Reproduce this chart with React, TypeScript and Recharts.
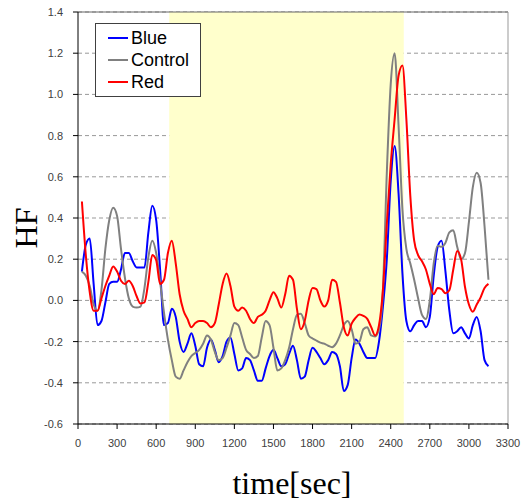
import React from 'react';
import {
  LineChart,
  Line,
  XAxis,
  YAxis,
  CartesianGrid,
  Legend,
  ReferenceArea,
  ReferenceLine,
} from 'recharts';

// sample times, every 30 sec
const times = [
  30, 60, 90, 120, 150, 180, 210, 240, 270, 300, 330, 360, 390, 420, 450, 480, 510, 540, 570, 600,
  630, 660, 690, 720, 750, 780, 810, 840, 870, 900, 930, 960, 990, 1020, 1050, 1080, 1110, 1140,
  1170, 1200, 1230, 1260, 1290, 1320, 1350, 1380, 1410, 1440, 1470, 1500, 1530, 1560, 1590, 1620,
  1650, 1680, 1710, 1740, 1770, 1800, 1830, 1860, 1890, 1920, 1950, 1980, 2010, 2040, 2070, 2100,
  2130, 2160, 2190, 2220, 2250, 2280, 2310, 2340, 2370, 2400, 2430, 2460, 2490, 2520, 2550, 2580,
  2610, 2640, 2670, 2700, 2730, 2760, 2790, 2820, 2850, 2880, 2910, 2940, 2970, 3000, 3030, 3060,
  3090, 3120, 3150,
];

const blue = [
  0.14, 0.27, 0.3, 0.08, -0.12, -0.1, -0.01, 0.08, 0.09, 0.09, 0.15, 0.23, 0.23, 0.19, 0.16, 0.16,
  0.16, 0.33, 0.46, 0.39, 0.15, -0.12, -0.11, -0.04, -0.08, -0.2, -0.25, -0.21, -0.16, -0.22, -0.31,
  -0.32, -0.23, -0.19, -0.24, -0.3, -0.27, -0.2, -0.18, -0.26, -0.34, -0.33, -0.28, -0.29, -0.34,
  -0.39, -0.39, -0.33, -0.27, -0.24, -0.28, -0.32, -0.31, -0.26, -0.22, -0.29, -0.38, -0.37, -0.29,
  -0.23, -0.25, -0.28, -0.31, -0.29, -0.25, -0.26, -0.32, -0.44, -0.41, -0.28, -0.19, -0.21, -0.25,
  -0.28, -0.28, -0.28, -0.2, -0.03, 0.2, 0.58, 0.75, 0.52, 0.13, -0.1, -0.15, -0.12, -0.1, -0.1,
  -0.13, -0.08, 0.12, 0.26, 0.29, 0.14, -0.05, -0.16, -0.15, -0.13, -0.16, -0.185, -0.12, -0.08,
  -0.15, -0.29, -0.32,
];

const control = [
  0.14, 0.12, 0.07, -0.02, -0.05, 0.05, 0.25, 0.39, 0.45, 0.41, 0.25, 0.11, 0.01, -0.03, -0.035,
  -0.03, 0.06, 0.21, 0.29, 0.23, 0.09, -0.06, -0.19, -0.29, -0.37, -0.38, -0.34, -0.3, -0.27, -0.255,
  -0.24, -0.21, -0.17, -0.19, -0.25, -0.29, -0.28, -0.23, -0.17, -0.11, -0.12, -0.18, -0.24, -0.26,
  -0.28, -0.27, -0.18, -0.1, -0.12, -0.23, -0.34, -0.33, -0.29, -0.23, -0.14, -0.07, -0.065, -0.11,
  -0.17, -0.185, -0.195, -0.205, -0.21, -0.22, -0.227, -0.21, -0.17, -0.12, -0.1, -0.14, -0.21,
  -0.2, -0.14, -0.13, -0.17, -0.175, -0.14, 0.05, 0.62, 1.05, 1.2, 0.85, 0.44, 0.25, 0.18, 0.1,
  0.01, -0.07, -0.09, 0.0, 0.18, 0.265, 0.26, 0.28, 0.33, 0.34, 0.26, 0.2, 0.23, 0.38, 0.55, 0.62,
  0.57, 0.36, 0.1,
];

const red = [
  0.48, 0.22, 0.04, -0.05, -0.05, 0.01, 0.07, 0.12, 0.165, 0.14, 0.095, 0.08, 0.095, 0.07, 0.02,
  -0.015, -0.01, 0.09, 0.22, 0.195, 0.08, 0.1, 0.23, 0.29, 0.18, 0.03, -0.05, -0.09, -0.13, -0.11,
  -0.1, -0.1, -0.11, -0.13, -0.11, -0.02, 0.08, 0.13, 0.07, -0.03, -0.05, -0.035, -0.05, -0.09,
  -0.11, -0.08, -0.07, -0.05, 0.0, 0.04, 0.01, -0.035, 0.03, 0.12, 0.1, -0.04, -0.14, -0.1, 0.0,
  0.06, 0.055, 0.0, -0.03, 0.0, 0.1, 0.09, -0.01, -0.13, -0.17, -0.113, -0.085, -0.068, -0.075,
  -0.09, -0.13, -0.17, -0.12, 0.05, 0.37, 0.66, 0.88, 1.09, 1.14, 0.88, 0.51, 0.29, 0.22, 0.19,
  0.15, 0.08, 0.03, 0.06, 0.055, 0.035, 0.05, 0.15, 0.24, 0.2, 0.065, -0.02, -0.055, -0.02, 0.015,
  0.06, 0.08,
];

const xTicks = [0, 300, 600, 900, 1200, 1500, 1800, 2100, 2400, 2700, 3000, 3300];
const yTicks = [-0.6, -0.4, -0.2, 0.0, 0.2, 0.4, 0.6, 0.8, 1.0, 1.2, 1.4];

const series = [
  { key: 'blue', name: 'Blue', color: '#0000FF' },
  { key: 'control', name: 'Control', color: '#808080' },
  { key: 'red', name: 'Red', color: '#FF0000' },
];

const data = times.map((t, i) => ({
  t,
  blue: blue[i],
  control: control[i],
  red: red[i],
}));

const tickStyle = { fontSize: 11, fill: '#404040', fontFamily: 'Liberation Sans, Arial, sans-serif' };

function LegendBox() {
  return (
    <div
      style={{
        border: '1px solid #404040',
        background: 'white',
        padding: '3px 6px 3px 12px',
        fontFamily: 'Liberation Sans, Arial, sans-serif',
        fontSize: 18,
        lineHeight: '22px',
        color: '#000',
      }}
    >
      {series.map((s) => (
        <div key={s.key} style={{ display: 'flex', alignItems: 'center' }}>
          <span style={{ display: 'inline-block', width: 20, height: 2, background: s.color, marginRight: 3 }} />
          <span>{s.name}</span>
        </div>
      ))}
    </div>
  );
}

export default function App() {
  return (
    <div style={{ position: 'absolute', left: 0, top: 0, width: 524, height: 501, background: 'white' }}>
      <LineChart
        width={524}
        height={501}
        data={data}
        margin={{ top: 12, right: 16, left: 0, bottom: 0 }}
      >
        <ReferenceArea x1={700} x2={2500} y1={-0.6} y2={1.4} fill="#FFFFCC" fillOpacity={1} stroke="none" />
        <CartesianGrid vertical={false} stroke="#999" strokeDasharray="4 3" />
        <XAxis
          dataKey="t"
          type="number"
          domain={[0, 3300]}
          ticks={xTicks}
          tick={tickStyle}
          tickSize={5}
          tickMargin={10}
          axisLine={{ stroke: '#000' }}
          tickLine={{ stroke: '#000' }}
          height={77}
        />
        <YAxis
          type="number"
          domain={[-0.6, 1.4]}
          ticks={yTicks}
          tickFormatter={(v) => Number(v).toFixed(1)}
          tick={tickStyle}
          tickSize={5}
          tickMargin={10}
          axisLine={{ stroke: '#000' }}
          tickLine={{ stroke: '#000' }}
          width={78}
        />
        <ReferenceLine y={1.4} stroke="#666" />
        <ReferenceLine x={3300} stroke="#999" />
        {series.map((s) => (
          <Line
            key={s.key}
            dataKey={s.key}
            name={s.name}
            type="monotone"
            stroke={s.color}
            strokeWidth={2}
            dot={false}
            isAnimationActive={false}
          />
        ))}
        <Legend
          layout="vertical"
          align="center"
          verticalAlign="middle"
          content={() => <LegendBox />}
          wrapperStyle={{ left: 95, top: 23, width: 106 }}
        />
      </LineChart>
      <svg
        width={524}
        height={501}
        style={{ position: 'absolute', left: 0, top: 0, pointerEvents: 'none' }}
      >
        <text
          x={0}
          y={0}
          transform="translate(37,228) rotate(-90)"
          textAnchor="middle"
          fontFamily="Liberation Serif, Times New Roman, serif"
          fontSize={32}
          fill="#000"
        >
          HF
        </text>
        <text
          x={292}
          y={494}
          textAnchor="middle"
          fontFamily="Liberation Serif, Times New Roman, serif"
          fontSize={32}
          fill="#000"
        >
          time[sec]
        </text>
      </svg>
    </div>
  );
}
